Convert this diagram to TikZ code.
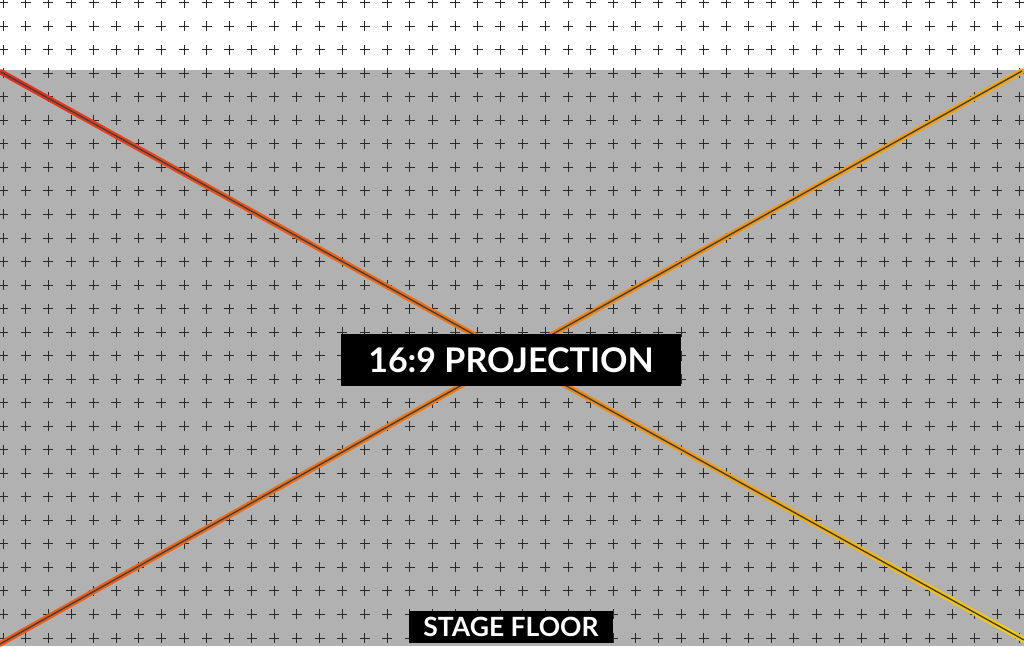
\documentclass[tikz,border=0pt]{standalone}
\usepackage{fontspec}
\setmainfont{Lato}
\usepackage{tikz}
\usetikzlibrary{calc}
\definecolor{floorgray}{RGB}{177,177,177}
\definecolor{beamred}{RGB}{232,44,30}
\definecolor{beamyellow}{RGB}{248,206,10}
\definecolor{crossgray}{RGB}{40,40,40}

\begin{document}
\begin{tikzpicture}[x=1pt, y=-1pt,
    cross/.style={draw=crossgray, line width=1pt},
    beam/.style={line width=5.6pt, line cap=round},
    core/.style={draw=black!75, line width=1.4pt},
    tag/.style={fill=black, text=white, inner sep=0pt}]
  \useasboundingbox (0,0) rectangle (1024,646);

  % stage area
  \fill[floorgray] (0,70) rectangle (1024,646);

  % crosses
  \foreach \i in {0,...,45} {
    \foreach \j in {0,...,27} {
      \draw[cross] ({3.3+22.59*\i},{2.7+23.53*\j}) +(-5,0) -- +(5,0) +(0,-5) -- +(0,5);
    }
  }

  \coordinate (tl) at (1,72);
  \coordinate (br) at (1024,640);
  \coordinate (bl) at (0,644);
  \coordinate (tr) at (1022,71);

  % diagonals, red to yellow
  \foreach \k in {0,...,39} {
    \pgfmathsetmacro\pa{\k/40}
    \pgfmathsetmacro\pb{(\k+1)/40}
    \pgfmathtruncatemacro\mixa{100-100*(\k+0.5)/40}
    \pgfmathtruncatemacro\mixb{100-100*(0.27+0.49*(\k+0.5)/40)}
    \draw[beam, beamred!\mixa!beamyellow] ($(tl)!\pa!(br)$) -- ($(tl)!\pb!(br)$);
    \draw[beam, beamred!\mixb!beamyellow] ($(bl)!\pa!(tr)$) -- ($(bl)!\pb!(tr)$);
  }
  \draw[core] (tl) -- (br);
  \draw[core] (bl) -- (tr);

  % labels
  \node[tag, minimum width=340pt, minimum height=52pt,
        font=\bfseries\fontsize{34}{34}\selectfont] (proj) at (511,360) {16:9 PROJECTION};
  \node[tag, minimum width=204pt, minimum height=32pt,
        font=\bfseries\fontsize{26.5}{26.5}\selectfont] (floor) at (511,627) {STAGE FLOOR};
\end{tikzpicture}
\end{document}
